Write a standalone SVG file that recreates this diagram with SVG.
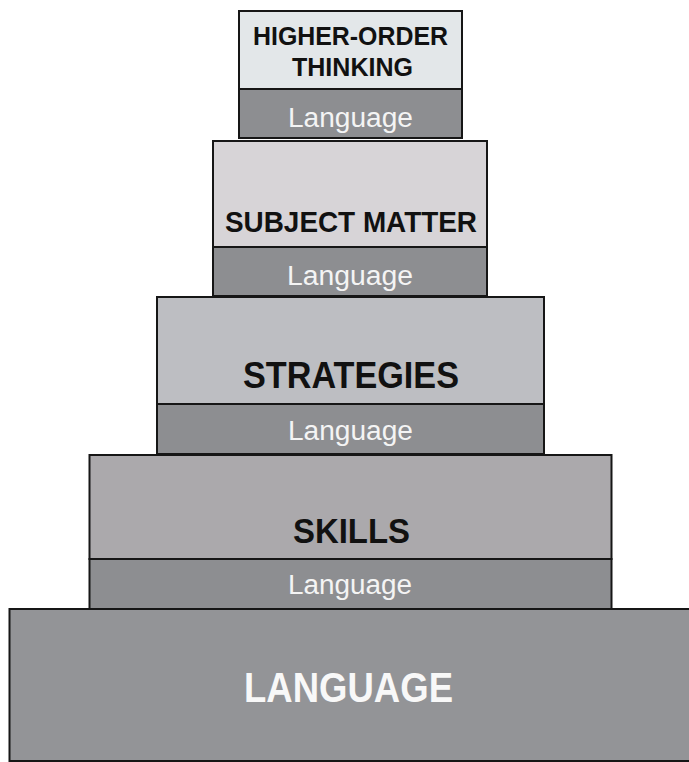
<svg xmlns="http://www.w3.org/2000/svg" width="689" height="762" viewBox="0 0 689 762">
<style>
.box{stroke:#161616;stroke-width:2}
.band{fill:#8d8e91}
.title{font-family:"Liberation Sans",Arial,sans-serif;font-weight:bold;fill:#111;text-anchor:middle}
.lang{font-family:"Liberation Sans",Arial,sans-serif;font-size:27px;fill:#f4f4f4;text-anchor:middle}
</style>
<rect width="689" height="762" fill="#ffffff"/>
<g id="base">
<rect class="box" x="9.5" y="609" width="684" height="152" fill="#939497"/>
<text x="348.5" y="702" font-size="42" class="title" style="fill:#f8f8f8" textLength="209" lengthAdjust="spacingAndGlyphs">LANGUAGE</text>
</g>
<g id="skills">
<rect class="box" x="89.5" y="455" width="522" height="104" fill="#aba9ac"/>
<rect class="box band" x="89.5" y="559" width="522" height="50"/>
<text x="351.5" y="543" font-size="35" class="title" textLength="117" lengthAdjust="spacingAndGlyphs">SKILLS</text>
<text x="350" y="594" class="lang" textLength="124" lengthAdjust="spacingAndGlyphs">Language</text>
</g>
<g id="strategies">
<rect class="box" x="157" y="297" width="387" height="107" fill="#bdbec2"/>
<rect class="box band" x="157" y="404" width="387" height="50"/>
<text x="351" y="388" font-size="36" class="title" textLength="216" lengthAdjust="spacingAndGlyphs">STRATEGIES</text>
<text x="350.5" y="440" class="lang" textLength="125" lengthAdjust="spacingAndGlyphs">Language</text>
</g>
<g id="subject-matter">
<rect class="box" x="213" y="141" width="274" height="106" fill="#d7d4d7"/>
<rect class="box band" x="213" y="247" width="274" height="49"/>
<text x="351" y="232" font-size="30" class="title" textLength="252" lengthAdjust="spacingAndGlyphs">SUBJECT MATTER</text>
<text x="350" y="285" class="lang" textLength="126" lengthAdjust="spacingAndGlyphs">Language</text>
</g>
<g id="higher-order-thinking">
<rect class="box" x="239" y="11" width="223" height="78" fill="#e3e7e9"/>
<rect class="box band" x="239" y="89" width="223" height="49"/>
<text x="350.5" y="45" font-size="25" class="title" textLength="195" lengthAdjust="spacingAndGlyphs">HIGHER-ORDER</text>
<text x="352.5" y="76" font-size="25" class="title" textLength="121" lengthAdjust="spacingAndGlyphs">THINKING</text>
<text x="350.5" y="127" class="lang" textLength="125" lengthAdjust="spacingAndGlyphs">Language</text>
</g>
</svg>
